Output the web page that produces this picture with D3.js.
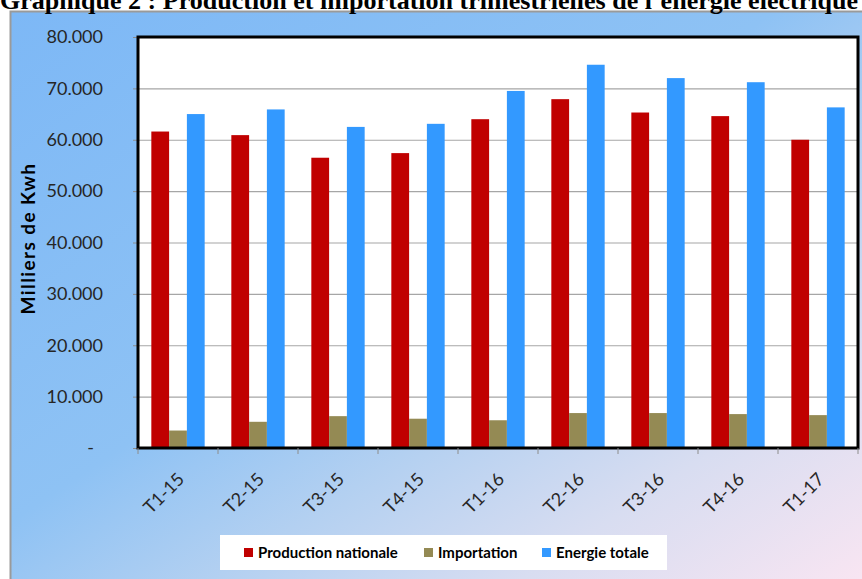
<!DOCTYPE html>
<html>
<head>
<meta charset="utf-8">
<script src="https://cdn.jsdelivr.net/npm/d3@7"></script>
<style>
  html, body { margin: 0; padding: 0; background: #ffffff; }
  svg { display: block; }
</style>
</head>
<body>
<svg id="chart" width="862" height="579"></svg>
<script>
// ---- Data ----
const categories = ["T1-15", "T2-15", "T3-15", "T4-15", "T1-16", "T2-16", "T3-16", "T4-16", "T1-17"];
const production = [61600, 60900, 56500, 57400, 64000, 67900, 65300, 64600, 60000];
const importation = [3400, 5100, 6200, 5700, 5400, 6800, 6800, 6600, 6400];
const energieTotale = [65000, 65900, 62500, 63100, 69500, 74600, 72000, 71200, 66300];
const seriesNames = ["Production nationale", "Importation", "Energie totale"];
const seriesColors = ["#c00000", "#948a54", "#3399ff"];
const yTicks = [0, 10000, 20000, 30000, 40000, 50000, 60000, 70000, 80000];
const titleText = "Graphique 2 : Production et importation trimestrielles de l\u2019énergie électrique";
const yTitle = "Milliers de Kwh";

const seriesValues = [production, importation, energieTotale];
const rows = categories.map((c, i) => ({
  cat: c,
  vals: seriesNames.map((s, k) => ({ key: s, value: seriesValues[k][i], color: seriesColors[k] }))
}));

const svg = d3.select("#chart");
const W = 862, H = 579;

// ---- Background ----
const defs = svg.append("defs");
const grad = defs.append("linearGradient").attr("id", "bg")
  .attr("x1", 0).attr("y1", 0).attr("x2", 1).attr("y2", 1);
[[0, "#7db8f6"], [0.45, "#8ec2f4"], [0.62, "#b3d0f1"], [0.8, "#d8ddf1"], [1, "#f8e5f2"]]
  .forEach(([o, c]) => grad.append("stop").attr("offset", o).attr("stop-color", c));

svg.append("rect").attr("x", 0).attr("y", 0).attr("width", W).attr("height", H).attr("fill", "#ffffff");
svg.append("rect").attr("x", 10).attr("y", 11).attr("width", W - 10).attr("height", H - 11)
  .attr("fill", "url(#bg)");
svg.append("path").attr("d", `M10.5,${H} V11.5 H${W}`)
  .attr("fill", "none").attr("stroke", "#9a9a9a").attr("stroke-width", 2);

// Title (the reference shows it clipped by the picture's top and right edges)
svg.append("text").attr("x", 0).attr("y", 9)
  .attr("font-family", "'Liberation Serif', 'Times New Roman', serif")
  .attr("font-weight", "bold").attr("font-size", 26).attr("fill", "#000")
  .attr("textLength", 858).attr("lengthAdjust", "spacingAndGlyphs")
  .text(titleText);

// ---- Scales ----
const plot = { left: 138, right: 858, top: 37, bottom: 448 };
const x0 = d3.scaleBand().domain(categories).range([plot.left, plot.right])
  .paddingInner(1 / 3).paddingOuter(1 / 6);
const x1 = d3.scaleBand().domain(seriesNames).range([0, x0.bandwidth()]).padding(0);
const y = d3.scaleLinear().domain([0, 80000]).range([plot.bottom, plot.top]);

const locale = d3.formatLocale({ decimal: ",", thousands: ".", grouping: [3], currency: ["", ""] });
const fmt = locale.format(",d");

// Plot area
svg.append("rect").attr("x", plot.left).attr("y", plot.top)
  .attr("width", plot.right - plot.left).attr("height", plot.bottom - plot.top)
  .attr("fill", "#ffffff");

// Gridlines
const grid = svg.append("g").attr("transform", `translate(${plot.left},0)`)
  .call(d3.axisLeft(y).tickValues(yTicks.slice(1, -1)).tickSize(-(plot.right - plot.left)).tickFormat(""));
grid.select(".domain").remove();
grid.selectAll("line").attr("stroke", "#a6a6a6").attr("stroke-width", 1.2);

// Y axis
const yAxis = svg.append("g").attr("transform", `translate(${plot.left},0)`)
  .call(d3.axisLeft(y).tickValues(yTicks).tickSize(5).tickPadding(30)
    .tickFormat(d => d === 0 ? "-" : fmt(d)));
yAxis.select(".domain").remove();
yAxis.selectAll("line").attr("stroke", "#8c8c8c");
yAxis.selectAll("text")
  .attr("font-family", "Lato, 'Open Sans', sans-serif").attr("font-size", 18).attr("fill", "#262626");
yAxis.selectAll(".tick").filter(d => d === 0).select("text").attr("dx", -9);

// Y title
svg.append("text")
  .attr("transform", `translate(35,${(plot.top + plot.bottom) / 2 - 4}) rotate(-90)`)
  .attr("text-anchor", "middle")
  .attr("font-family", "Lato, 'Open Sans', sans-serif").attr("font-weight", "bold")
  .attr("font-size", 19).attr("letter-spacing", 1.4).attr("fill", "#000")
  .text(yTitle);

// Bars
const groups = svg.append("g").selectAll("g").data(rows).join("g")
  .attr("transform", d => `translate(${x0(d.cat)},0)`);
groups.selectAll("rect").data(d => d.vals).join("rect")
  .attr("x", d => x1(d.key))
  .attr("width", x1.bandwidth())
  .attr("y", d => y(d.value))
  .attr("height", d => y(0) - y(d.value))
  .attr("fill", d => d.color);

// Plot border
svg.append("rect").attr("x", plot.left).attr("y", plot.top)
  .attr("width", plot.right - plot.left).attr("height", plot.bottom - plot.top)
  .attr("fill", "none").attr("stroke", "#000").attr("stroke-width", 3);

// X axis tick marks at group boundaries
const half = (x0.step() - x0.bandwidth()) / 2;
const boundaries = categories.map(c => x0(c) - half).concat([x0(categories[categories.length - 1]) + x0.bandwidth() + half]);
svg.append("g").selectAll("line").data(boundaries).join("line")
  .attr("x1", d => d).attr("x2", d => d)
  .attr("y1", plot.bottom).attr("y2", plot.bottom + 6)
  .attr("stroke", "#8c8c8c").attr("stroke-width", 1);

// X labels
svg.append("g").selectAll("text").data(categories).join("text")
  .attr("transform", d => `translate(${x0(d) + x0.bandwidth() / 2 + 3},${plot.bottom + 28}) rotate(-45)`)
  .attr("text-anchor", "end").attr("dy", "0.35em")
  .attr("font-family", "Lato, 'Open Sans', sans-serif").attr("font-size", 18).attr("fill", "#262626")
  .text(d => d);

// Legend
const lg = svg.append("g");
lg.append("rect").attr("x", 220).attr("y", 535).attr("width", 447).attr("height", 35)
  .attr("fill", "#ffffff");
const legendX = [244, 424, 542];
seriesNames.forEach((s, i) => {
  lg.append("rect").attr("x", legendX[i]).attr("y", 548).attr("width", 9).attr("height", 9)
    .attr("fill", seriesColors[i]);
  lg.append("text").attr("x", legendX[i] + 14).attr("y", 553).attr("dy", "0.35em")
    .attr("font-family", "Lato, 'Open Sans', sans-serif").attr("font-weight", "bold")
    .attr("font-size", 15).attr("fill", "#000")
    .text(s);
});
</script>
</body>
</html>
